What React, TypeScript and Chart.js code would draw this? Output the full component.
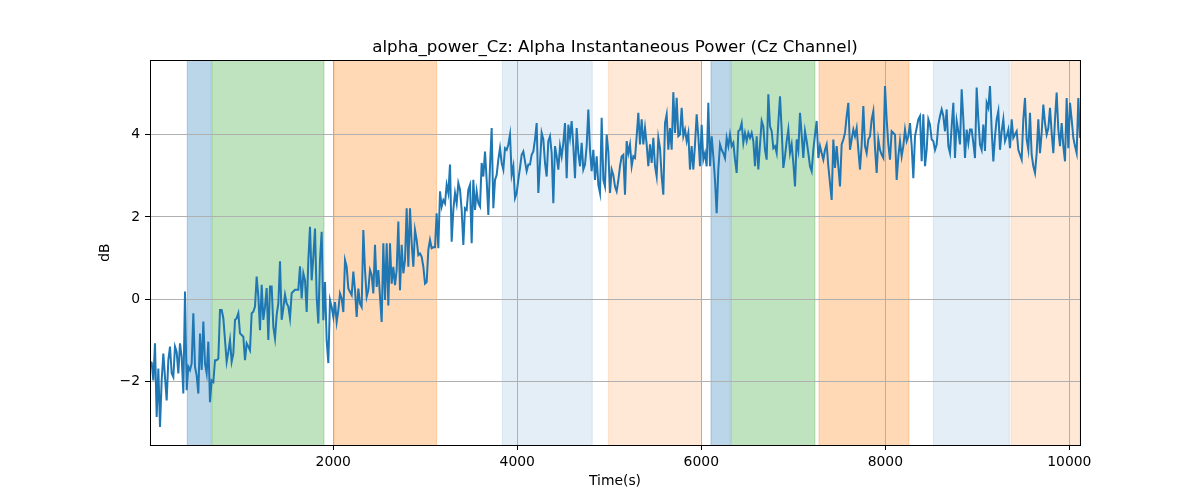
import { useEffect, useRef } from 'react';
import { Chart, registerables } from 'chart.js';
import type { ChartConfiguration, Plugin } from 'chart.js';

// Register Chart.js components
Chart.register(...registerables);

// sampling of the alpha power trace (seconds)
const startTime = 8;
const sampleStep = 18.115;

// alpha power in dB left to right
const powerPart1 = [
  -1.52, -1.54, -1.97, -1.07, -2.86, -1.68, -3.1, -1.97, -1.32, -1.89,
  -2.46, -1.48, -1.15, -1.8, -1.89, -1.15, -1.28, -1.8, -1.07, -1.4,
  -2.29, 0.19, -2.21, -1.64, -1.72, -1.56, -0.34, -1.64, -1.85, -2.29,
  -0.83, -1.72, -0.54, -1.56, -1.8, -1.03, -2.5, -1.97, -2.01, -1.48,
  -1.48, -1.44, -0.26, -0.26, -0.46, -0.99, -1.52, -1.28, -0.99, -1.52,
  -1.32, -0.5, -0.46, -0.34, -0.83, -0.87, -0.91, -1.48, -1.07, -1.15,
  -1.24, -0.34, -0.3, -0.18, 0.55, 0.07, -0.75, 0.35, -0.5, -0.18,
  0.27, -0.99, 0.31, 0.31, -0.67, -0.95, -0.38, -0.1, 0.92, -0.5,
  -0.22, 0.11, -0.1, -0.18, -0.46, 0.15, 0.19, 0.23, 0.23, 0.23,
  0.8, 0.02, 0.63,
];
const powerPart2 = [
  0.46, -0.31, 0.95, 1.76, 0.46, 1.03, 1.72, 0.06, -0.59, 0.95,
  1.64, -0.51, 0.42, -1.0, -1.55, -0.02, -0.19, -0.43, -0.07, -0.55,
  -0.27, 0.14, 0.02, -0.31, 0.95, 0.79, 0.26, 0.18, 0.1, 0.67,
  0.22, -0.43, 0.26, -0.11, -0.19, 1.68, 0.71, 0.06, 0.22, 0.71,
  0.59, 0.14, 1.32, 0.3, 0.71, 0.06, -0.55, 1.36, -0.02, 1.36,
  -0.15, 1.36, 0.38, 0.79, 0.34, 0.71, 1.89, 0.22, 1.32, 0.63,
  0.95, 2.21, 0.79, 2.21, 1.36, 0.79, 1.68, 1.44, 1.07, 1.11,
  1.03, 0.79, 0.38, 0.42, 1.2, 1.44, 1.24, 1.26, 1.26, 2.09,
  1.24, 2.62, 2.25, 2.41, 2.33, 2.78, 2.58, 3.27, 1.4, 2.17,
  2.58, 2.33, 2.82,
];
const powerPart3 = [
  2.66, 2.17, 1.32, 2.21, 2.17, 2.66, 2.78, 1.36, 2.9, 2.17,
  2.62, 2.33, 2.25, 3.31, 2.98, 3.59, 2.9, 2.05, 3.23, 4.16,
  2.21, 2.9, 3.02, 3.39, 3.67, 3.31, 3.15, 3.67, 3.63, 3.76,
  4.0, 3.02, 3.23, 2.46, 2.58, 2.9, 3.19, 3.51, 3.59, 3.35,
  3.11, 3.27, 3.27, 3.51, 3.59, 3.88, 4.28, 2.58, 3.31, 4.04,
  3.88, 3.31, 2.98, 3.84, 3.96, 3.55, 2.33, 3.72, 3.47, 3.15,
  3.72, 3.47, 3.8, 4.28, 2.94, 4.24, 3.92, 4.33, 3.72, 2.94,
  4.16, 3.55, 3.23, 3.8, 3.15, 3.27, 3.72, 4.61, 3.63, 3.11,
  3.63, 2.9, 3.47, 2.78, 2.58, 4.41, 2.9, 2.74, 4.0, 3.59,
  2.58, 3.15, 3.02,
];
const powerPart4 = [
  2.74, 2.62, 2.89, 3.23, 3.47, 3.51, 2.54, 3.84, 3.55, 3.76,
  3.23, 3.47, 3.43, 3.96, 4.53, 3.76, 4.37, 3.76, 4.16, 3.76,
  3.23, 3.76, 3.31, 3.92, 3.23, 2.98, 3.92, 3.67, 2.98, 2.54,
  4.28, 4.49, 3.63, 4.16, 3.63, 5.03, 4.04, 4.89, 3.96, 4.0,
  4.65, 3.96, 4.12, 3.84, 4.04, 3.15, 3.72, 3.15, 3.76, 4.49,
  3.96, 3.23, 4.24, 3.39, 3.55, 3.23, 4.77, 3.23, 3.96, 3.47,
  2.9, 2.09, 3.15, 3.76, 3.63, 3.55, 3.43, 3.92, 3.72, 4.0,
  3.72, 3.8, 3.39, 3.07, 4.08, 4.12, 4.28, 3.8, 4.04, 3.84,
  4.04, 3.92, 4.04, 3.84, 3.23, 3.96, 3.15, 3.76, 4.33, 4.2,
  3.63, 3.39, 4.98,
];
const powerPart5 = [
  4.2, 4.08, 3.67, 3.72, 3.55, 4.28, 4.93, 4.12, 3.19, 3.47,
  3.84, 4.12, 3.55, 3.76, 3.31, 2.74, 3.88, 3.63, 4.53, 4.0,
  3.43, 4.08, 3.84, 3.55, 3.23, 3.11, 3.63, 4.0, 4.33, 3.43,
  3.72, 3.55, 3.39, 3.63, 3.76, 3.23, 2.82, 2.41, 3.88, 3.19,
  3.72, 3.23, 2.74, 3.76, 3.88, 4.04, 4.45, 4.77, 3.63, 3.88,
  4.12, 3.96, 4.16, 3.63, 3.15, 3.76, 4.69, 3.72, 3.55, 3.88,
  3.96, 4.37, 4.57, 3.67, 3.07, 3.88, 3.63, 3.51, 3.43, 5.18,
  4.37, 3.76, 3.39, 4.08, 4.04, 4.0, 2.9, 3.47, 3.84, 3.47,
  3.72, 4.12, 3.84, 3.96, 4.28, 3.72, 2.94, 3.96, 4.16, 4.37,
  4.45, 3.35, 4.49,
];
const powerPart6 = [
  3.23, 3.63, 4.37, 4.24, 3.88, 3.84, 3.63, 3.76, 4.24, 4.45,
  4.61, 4.45, 4.08, 4.61, 3.72, 3.55, 4.2, 4.77, 3.43, 4.33,
  4.08, 3.76, 5.1, 4.37, 3.43, 4.12, 3.8, 4.12, 4.12, 3.8,
  3.43, 5.14, 4.37, 3.76, 3.63, 4.24, 3.6, 4.77, 4.65, 5.18,
  4.12, 3.35, 3.96, 4.37, 4.57, 3.63, 4.08, 4.37, 3.84, 3.96,
  4.12, 3.67, 4.37, 3.92, 4.0, 4.08, 3.63, 3.51, 3.39, 4.37,
  4.89, 3.88, 3.63, 4.53, 3.51, 3.23, 3.07, 3.55, 4.37, 3.55,
  4.04, 4.73, 4.28, 4.0, 4.16, 4.65, 4.04, 3.55, 4.37, 5.02,
  4.12, 3.72, 4.28, 3.72, 3.35, 4.89, 3.67, 4.77, 4.37, 3.92,
  3.72, 3.55, 4.89, 3.92,
];

const power = [
  ...powerPart1, ...powerPart2, ...powerPart3,
  ...powerPart4, ...powerPart5, ...powerPart6,
];
const times = power.map((_, i) => startTime + i * sampleStep);

// condition blocks shaded behind the trace (seconds)
const spanStarts = [413, 685, 2007, 3837, 4989, 6105, 6326, 7279, 8522, 9366];
const spanEnds = [674, 1899, 3123, 4815, 6003, 6315, 7235, 8257, 9348, 10116];
const spanColors = [
  'rgba(31,119,180,0.3)',
  'rgba(44,160,44,0.3)',
  'rgba(255,127,14,0.3)',
  'rgba(31,119,180,0.12)',
  'rgba(255,127,14,0.17)',
  'rgba(31,119,180,0.3)',
  'rgba(44,160,44,0.3)',
  'rgba(255,127,14,0.3)',
  'rgba(31,119,180,0.12)',
  'rgba(255,127,14,0.17)',
];

const xTicks = [2000, 4000, 6000, 8000, 10000];
const yTicks = [-2, 0, 2, 4];
const yMin = -3.54;
const yMax = 5.81;

const FONT = "'DejaVu Sans', sans-serif";

const spanPlugin: Plugin<'line'> = {
  id: 'spans',
  beforeDraw(chart) {
    const { ctx, chartArea, scales } = chart;
    const x = scales.x;
    ctx.save();
    ctx.beginPath();
    ctx.rect(chartArea.left, chartArea.top, chartArea.right - chartArea.left, chartArea.bottom - chartArea.top);
    ctx.clip();
    spanStarts.forEach((s, i) => {
      const x0 = x.getPixelForValue(s);
      const x1 = x.getPixelForValue(spanEnds[i]);
      ctx.fillStyle = spanColors[i];
      ctx.fillRect(x0, chartArea.top, x1 - x0, chartArea.bottom - chartArea.top);
      ctx.strokeStyle = spanColors[i];
      ctx.lineWidth = 1;
      ctx.strokeRect(x0, chartArea.top - 2, x1 - x0, chartArea.bottom - chartArea.top + 4);
    });
    ctx.restore();
  },
};

const framePlugin: Plugin<'line'> = {
  id: 'frame',
  afterDatasetsDraw(chart) {
    const { ctx, chartArea } = chart;
    ctx.save();
    ctx.strokeStyle = '#000';
    ctx.lineWidth = 1;
    ctx.strokeRect(
      Math.round(chartArea.left) + 0.5,
      Math.round(chartArea.top) + 0.5,
      Math.round(chartArea.right - chartArea.left),
      Math.round(chartArea.bottom - chartArea.top)
    );
    ctx.restore();
  },
};

const minus = (v: number) => (v < 0 ? '\u2212' + Math.abs(v) : String(v));

export default function App() {
  const chartRef = useRef<HTMLCanvasElement>(null);
  const chartInstanceRef = useRef<Chart | null>(null);

  useEffect(() => {
    if (!chartRef.current) return;
    if (chartInstanceRef.current) chartInstanceRef.current.destroy();

    const ctx = chartRef.current.getContext('2d');
    if (!ctx) return;

    const chartConfig: ChartConfiguration<'line'> = {
      type: 'line',
      data: {
        datasets: [
          {
            label: 'alpha_power_Cz',
            data: power.map((v, i) => ({ x: times[i], y: v })),
            borderColor: '#1f77b4',
            borderWidth: 2,
            pointRadius: 0,
            fill: false,
            tension: 0,
          },
        ],
      },
      options: {
        animation: false,
        responsive: true,
        maintainAspectRatio: false,
        layout: { padding: { left: 90, right: 120, top: 0, bottom: 0 } },
        plugins: {
          legend: { display: false },
          tooltip: { enabled: false },
          title: {
            display: true,
            text: 'alpha_power_Cz: Alpha Instantaneous Power (Cz Channel)',
            color: '#000',
            font: { family: FONT, size: 16.7, weight: 'normal' },
            padding: { top: 38, bottom: 2 },
            fullSize: false,
          },
        },
        scales: {
          x: {
            type: 'linear',
            min: times[0],
            max: times[times.length - 1],
            afterBuildTicks: (scale) => {
              scale.ticks = xTicks.map((v) => ({ value: v }));
            },
            afterFit: (scale) => {
              scale.height = 55;
            },
            ticks: {
              autoSkip: false,
              maxRotation: 0,
              padding: 4,
              color: '#000',
              font: { family: FONT, size: 13.9 },
              callback: (v) => String(v),
            },
            grid: { color: '#b0b0b0', lineWidth: 1, tickColor: '#000', tickLength: 5, tickWidth: 1 },
            border: { display: false },
            title: {
              display: true,
              text: 'Time(s)',
              color: '#000',
              font: { family: FONT, size: 13.9 },
              padding: { top: 0, bottom: 10 },
            },
          },
          y: {
            min: yMin,
            max: yMax,
            afterBuildTicks: (scale) => {
              scale.ticks = yTicks.map((v) => ({ value: v }));
            },
            afterFit: (scale) => {
              scale.width = 60;
            },
            ticks: {
              padding: 5,
              color: '#000',
              font: { family: FONT, size: 13.9 },
              callback: (v) => minus(Number(v)),
            },
            grid: { color: '#b0b0b0', lineWidth: 1, tickColor: '#000', tickLength: 5, tickWidth: 1 },
            border: { display: false },
            title: {
              display: true,
              text: 'dB',
              color: '#000',
              font: { family: FONT, size: 13.9 },
              padding: { top: 6.7, bottom: 0 },
            },
          },
        },
      },
      plugins: [spanPlugin, framePlugin],
    };

    chartInstanceRef.current = new Chart(ctx, chartConfig);

    return () => {
      if (chartInstanceRef.current) {
        chartInstanceRef.current.destroy();
        chartInstanceRef.current = null;
      }
    };
  }, []);

  return (
    <div style={{ position: 'fixed', left: 0, top: 0, width: 1200, height: 500, background: '#fff' }}>
      <canvas ref={chartRef} />
    </div>
  );
}
